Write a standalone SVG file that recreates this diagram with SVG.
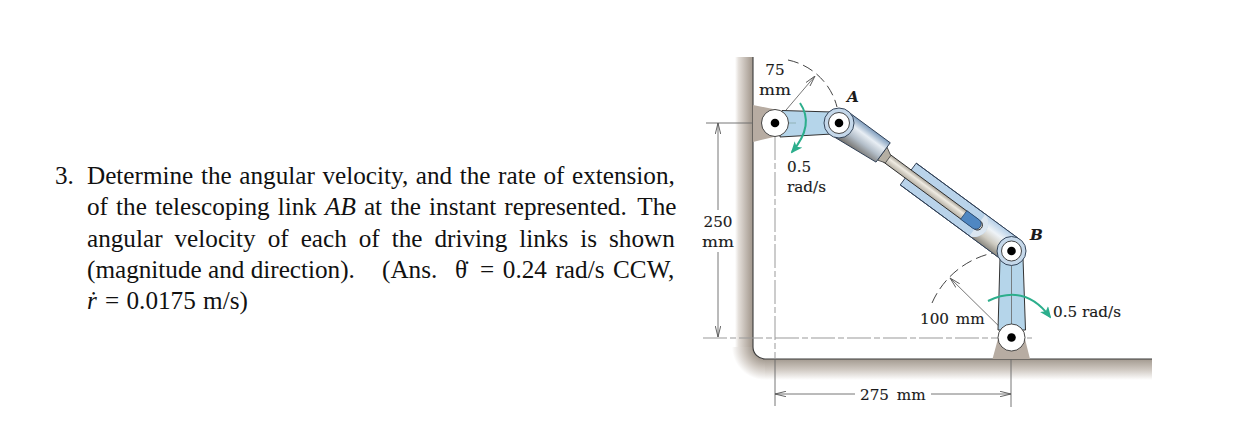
<svg xmlns="http://www.w3.org/2000/svg" width="1259" height="445" viewBox="0 0 1259 445">
<style>
.t{font-family:"Liberation Serif","Times New Roman",serif;font-size:25.2px;fill:#111}
.l{font-family:"DejaVu Serif",serif;font-size:15.2px;fill:#1a1a1a;stroke:#1a1a1a;stroke-width:.15}
.i{font-style:italic;font-weight:bold}
.dim{fill:none;stroke:#666;stroke-width:.9}
.cen{fill:none;stroke:#999;stroke-width:1;stroke-dasharray:24 3 6 3}
.dash{fill:none;stroke:#444;stroke-width:1;stroke-dasharray:11 5}
.grn{fill:none;stroke:#2cae8c;stroke-width:2}
.link{fill:#b5d5ea;stroke:#333;stroke-width:1}
.pin{fill:#000}
.wh{fill:#fff;stroke:#333;stroke-width:.9}
.ring{fill:#c5d8ea;stroke:#34455a;stroke-width:1}
.br{fill:#b7aca2}
</style>
<defs>
<linearGradient id="wall" x1="0" x2="1" y1="0" y2="0"><stop offset="0" stop-color="#fff"/><stop offset=".2" stop-color="#e4dfda"/><stop offset=".85" stop-color="#aca298"/><stop offset="1" stop-color="#a39a90"/></linearGradient>
<linearGradient id="floor" x1="0" x2="0" y1="0" y2="1"><stop offset="0" stop-color="#a39a90"/><stop offset=".5" stop-color="#cfc8c1"/><stop offset="1" stop-color="#fff"/></linearGradient>
<radialGradient id="corner" gradientUnits="userSpaceOnUse" cx="765" cy="347" r="33"><stop offset=".36" stop-color="#a39a90"/><stop offset=".65" stop-color="#cfc8c1"/><stop offset="1" stop-color="#fff"/></radialGradient>
<linearGradient id="metal" x1="0" x2="0" y1="0" y2="1"><stop offset="0" stop-color="#7f9dbd"/><stop offset=".3" stop-color="#e8eef4"/><stop offset=".6" stop-color="#b4bfca"/><stop offset="1" stop-color="#6e6a64"/></linearGradient>
<linearGradient id="metal2" x1="0" x2="0" y1="0" y2="1"><stop offset="0" stop-color="#b5cfe8"/><stop offset=".35" stop-color="#eef3f7"/><stop offset=".7" stop-color="#cdcac0"/><stop offset="1" stop-color="#8a877f"/></linearGradient>
<linearGradient id="rod" x1="0" x2="0" y1="0" y2="1"><stop offset="0" stop-color="#a8a296"/><stop offset=".4" stop-color="#efebe2"/><stop offset="1" stop-color="#b5afa3"/></linearGradient>
<marker id="open" viewBox="0 0 11 6" refX="11" refY="3" markerWidth="11" markerHeight="6" orient="auto-start-reverse" markerUnits="userSpaceOnUse"><path d="M0 .3L11 3L0 5.700" fill="none" stroke="#555" stroke-width=".9"/></marker>
<marker id="g" viewBox="0 0 12 10" refX="10" refY="5" markerWidth="12" markerHeight="10" orient="auto" markerUnits="userSpaceOnUse"><path d="M0 0L12 5L0 10L3 5Z" fill="#2cae8c"/></marker>
</defs>

<g id="problem-text">
<text class="t" x="55" y="184">3.</text>
<text class="t" x="87" y="184" word-spacing="1.3">Determine the angular velocity, and the rate of extension,</text>
<text class="t" x="87" y="215" word-spacing="1.8">of the telescoping link <tspan font-style="italic">AB</tspan> at the instant represented. <tspan dx="3">The</tspan></text>
<text class="t" x="87" y="246.500" word-spacing="5.7">angular velocity of each of the driving links is shown</text>
<text class="t" x="87" y="278">(magnitude and direction).</text>
<text class="t" x="382" y="278">(Ans.</text>
<text class="t" x="455" y="278">θ̇</text>
<text class="t" x="480" y="278" word-spacing="2.3">= 0.24 rad/s CCW,</text>
<text class="t" x="87" y="309" font-style="italic">ṙ</text>
<text class="t" x="105" y="309" word-spacing="1">= 0.0175 m/s)</text>
</g>

<g id="ground">
<rect x="735" y="57" width="18" height="290" fill="url(#wall)"/>
<rect x="765" y="359" width="387" height="21" fill="url(#floor)"/>
<path d="M765 347H732V380H765Z" fill="url(#corner)"/>
<path d="M765 347H753A12 12 0 0 0 765 359Z" fill="#fff"/>
<path d="M753 57V347A12 12 0 0 0 765 359H1152" fill="none" stroke="#3a3a3a" stroke-width="1.1"/>
</g>

<g id="connectors">
<path class="cen" d="M703 338H1032"/>
<path class="cen" d="M775 136V359"/>
<path class="dim" d="M775 359V406M1011 338V407M706 123H775"/>
<path class="dim" d="M718 210V123" marker-end="url(#open)"/>
<path class="dim" d="M718 252V337" marker-end="url(#open)"/>
<path class="dim" d="M855 394H775" marker-end="url(#open)"/>
<path class="dim" d="M931 394H1011" marker-end="url(#open)"/>
<path class="dim" d="M775 123L815 76" marker-end="url(#open)"/>
<path class="dim" d="M1011 338L950 278" marker-end="url(#open)"/>
<path class="dash" d="M788 60A64 64 0 0 1 837 107"/>
<path class="dash" d="M932 303A87 87 0 0 1 998 252"/>
</g>

<g id="bracket-O">
<path class="br" d="M753 105L778 110V136L753 142Z"/>
</g>
<g id="base-pin">
<path class="br" d="M992.500 359L999 335H1024L1030 359Z"/>
</g>

<g id="link-OA">
<path class="link" d="M782 110.500L832 112V134L780 137Z"/>
<path d="M775 123H796" stroke="#8aa" stroke-width=".8" fill="none"/>
</g>

<g id="link-AB" transform="translate(839 123) rotate(36.4)">
<path d="M86 -13.500H214V13.500H86Z" fill="#b9d3ea" stroke="#2f3f55" stroke-width=".9"/>
<path d="M172 -13.500H214V13.500H172A14 14 0 0 0 172 -13.500Z" fill="url(#metal2)"/>
<path d="M172 -13.500A14 14 0 0 1 172 13.500" fill="#dbe6f0"/>
<path d="M86 -13.500H214M86 13.500H214" stroke="#2f3f55" stroke-width=".9" fill="none"/>
<path d="M58 -5H172A5 5 0 0 1 172 5H58" fill="url(#rod)" stroke="#2a2a2a" stroke-width=".9"/>
<path d="M155 -5.300H170A5.300 5.300 0 0 1 170 5.300H155Z" fill="#4f87c2" stroke="#2a4a70" stroke-width=".8"/>
<path d="M53 -9L61 -4.500V4.500L53 7Z" fill="#b5afa3" stroke="#444" stroke-width=".8"/>
<path d="M0 -14.500H53V9.500L5 14Z" fill="url(#metal)" stroke="#2f3f55" stroke-width=".9"/>
</g>

<g id="link-B">
<path class="link" d="M1000 258H1023L1025.500 330H998Z"/>
<path d="M1011.500 258V330" stroke="#666" stroke-width=".8" fill="none"/>
</g>

<g id="pin-O"><circle class="wh" cx="775" cy="123" r="13.500"/><circle class="pin" cx="775" cy="123" r="4.300"/></g>
<g id="pin-A"><circle class="ring" cx="839" cy="123" r="15"/><circle class="wh" cx="839" cy="123" r="10.500"/><circle class="pin" cx="839" cy="123" r="4.300"/></g>
<g id="pin-B"><circle class="ring" cx="1011.500" cy="251" r="14.500"/><circle class="wh" cx="1011.500" cy="251" r="10"/><circle class="pin" cx="1011.500" cy="251" r="4.300"/></g>
<g id="pin-base"><circle class="wh" cx="1011.500" cy="337.500" r="13.500"/><circle class="pin" cx="1011.500" cy="337.500" r="4.300"/></g>

<g id="rotation-arrows">
<path class="grn" d="M800 103Q815 125 792 152" marker-end="url(#g)"/>
<path class="grn" d="M988 301Q1025 283 1050 317" marker-end="url(#g)"/>
</g>

<g id="labels">
<text class="l" x="775" y="75" text-anchor="middle">75</text>
<text class="l" x="775" y="95" text-anchor="middle" textLength="32" lengthAdjust="spacingAndGlyphs">mm</text>
<text class="l i" x="847" y="102">A</text>
<text class="l" x="787" y="172">0.5</text>
<text class="l" x="787" y="192">rad/s</text>
<text class="l" x="718" y="227" text-anchor="middle">250</text>
<text class="l" x="718" y="247" text-anchor="middle" textLength="32" lengthAdjust="spacingAndGlyphs">mm</text>
<text class="l" x="920" y="324" word-spacing="2">100 mm</text>
<text class="l" x="1053" y="317">0.5 rad/s</text>
<text class="l i" x="1030" y="240">B</text>
<text class="l" x="860" y="400" word-spacing="3">275 mm</text>
</g>
</svg>
